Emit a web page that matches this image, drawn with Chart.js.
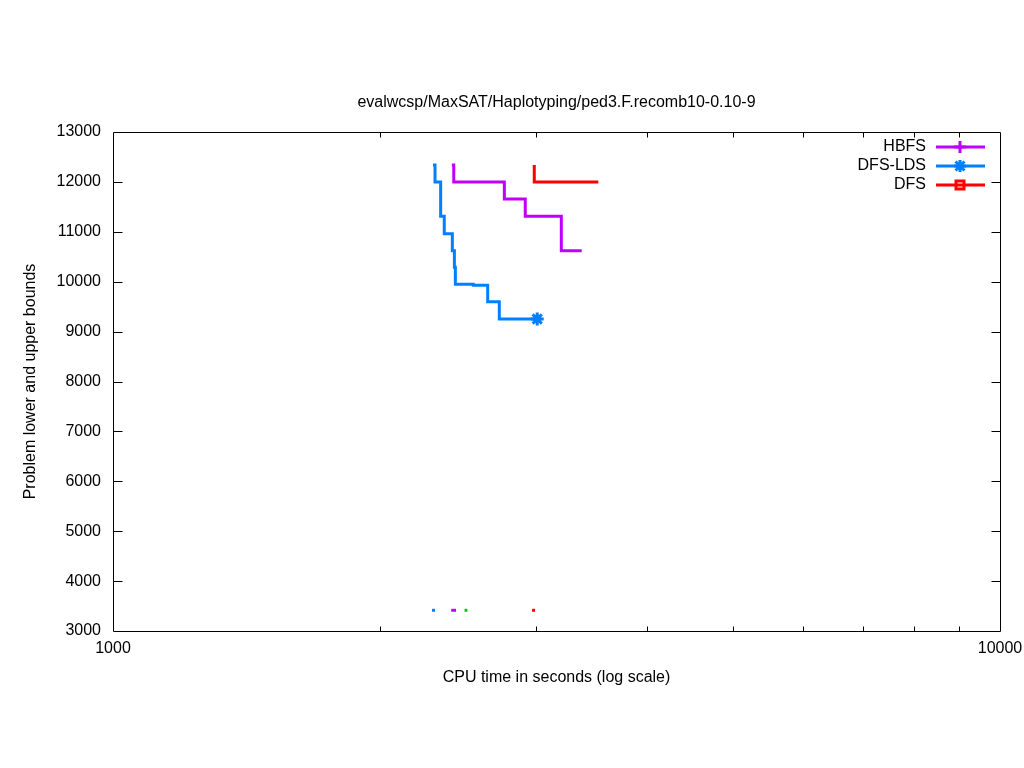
<!DOCTYPE html>
<html>
<head>
<meta charset="utf-8">
<script src="https://cdn.jsdelivr.net/npm/chart.js@4/dist/chart.umd.min.js"></script>
<style>
html,body{margin:0;padding:0;background:#fff;}
#wrap{width:1024px;height:768px;}
</style>
</head>
<body>
<div id="wrap"><canvas id="c" width="1024" height="768"></canvas></div>
<script>
const titleText = "evalwcsp/MaxSAT/Haplotyping/ped3.F.recomb10-0.10-9";
const xTitle = "CPU time in seconds (log scale)";
const yTitle = "Problem lower and upper bounds";

const hbfsTime = [2410, 2422, 2762, 2916, 3202, 3376];
const hbfsBound = [12340, 12000, 11657, 11310, 10621, 10621];

const ldsTime = [2295, 2307, 2341, 2363, 2413, 2426, 2432, 2548, 2645, 2726, 3008];
const ldsBound = [12340, 12000, 11310, 10962, 10621, 10288, 9947, 9927, 9600, 9253, 9253];

const dfsTime = [2985, 2985, 3525];
const dfsBound = [12340, 12000, 12000];

const lowerBound = 3415;
const hbfsLbTime = [2406, 2436];
const ldsLbTime = [2289, 2307];
const otherLbTime = [2491, 2509];
const dfsLbTime = [2968, 2991];

const xTickValues = [1000, 10000];
const xMinorTicks = [2000, 3000, 4000, 5000, 6000, 7000, 8000, 9000];
const yMin = 3000, yMax = 13000, yStep = 1000;

const PURPLE = '#c000ff', BLUE = '#0080ff', RED = '#ff0000', GREEN = '#00c000';
const FONT = 'Liberation Sans, Arial, sans-serif';
const FS = 16;

function pts(xs, ys) { return xs.map((x, i) => ({x: x, y: ys[i]})); }
function lb(xs) { return xs.map(x => ({x: x, y: lowerBound})); }

const lastLds = ldsTime.length - 1;

const datasets = [
  {label: 'HBFS', data: pts(hbfsTime, hbfsBound), borderColor: PURPLE, backgroundColor: PURPLE,
   borderWidth: 3, stepped: true, pointRadius: 0, legendStyle: 'cross'},
  {label: 'DFS-LDS', data: pts(ldsTime, ldsBound), borderColor: BLUE, backgroundColor: BLUE,
   borderWidth: 3, stepped: true, pointStyle: 'star',
   pointRadius: ctx => ctx.dataIndex === lastLds ? 6.5 : 0, pointBorderWidth: 3, legendStyle: 'star'},
  {label: 'DFS', data: pts(dfsTime, dfsBound), borderColor: RED, backgroundColor: RED,
   borderWidth: 3, stepped: true, pointRadius: 0, legendStyle: 'rect'},
  {label: '', data: lb(hbfsLbTime), borderColor: PURPLE, borderWidth: 3, pointRadius: 0, noLegend: true},
  {label: '', data: lb(ldsLbTime), borderColor: BLUE, borderWidth: 3, pointRadius: 0, noLegend: true},
  {label: '', data: lb(otherLbTime), borderColor: GREEN, borderWidth: 3, pointRadius: 0, noLegend: true},
  {label: '', data: lb(dfsLbTime), borderColor: RED, borderWidth: 3, pointRadius: 0, noLegend: true}
];

const framePlugin = {
  id: 'frame',
  afterDraw(chart) {
    const ctx = chart.ctx;
    const a = chart.chartArea;
    const xs = chart.scales.x, ys = chart.scales.y;
    ctx.save();
    // title
    ctx.fillStyle = '#000';
    ctx.font = FS + 'px ' + FONT;
    ctx.textAlign = 'center';
    ctx.textBaseline = 'middle';
    ctx.fillText(titleText, (a.left + a.right) / 2, 103);

    ctx.strokeStyle = '#000';
    ctx.lineWidth = 1;
    ctx.beginPath();
    const L = Math.round(a.left) + 0.5, R = Math.round(a.right) + 0.5;
    const T = Math.round(a.top) + 0.5, B = Math.round(a.bottom) + 0.5;
    ctx.rect(L, T, R - L, B - T);
    for (let v = yMin + yStep; v < yMax; v += yStep) {
      const y = Math.round(ys.getPixelForValue(v)) + 0.5;
      ctx.moveTo(L, y); ctx.lineTo(L + 9, y);
      ctx.moveTo(R, y); ctx.lineTo(R - 9, y);
    }
    xMinorTicks.forEach(v => {
      const x = Math.round(xs.getPixelForValue(v)) + 0.5;
      ctx.moveTo(x, B); ctx.lineTo(x, B - 5);
      ctx.moveTo(x, T); ctx.lineTo(x, T + 5);
    });
    ctx.stroke();

    // legend
    ctx.textAlign = 'right';
    let row = 0;
    chart.data.datasets.forEach(ds => {
      if (ds.noLegend) return;
      const y = 147 + row * 19;
      ctx.fillStyle = '#000';
      ctx.fillText(ds.label, 926, y);
      ctx.strokeStyle = ds.borderColor;
      ctx.lineWidth = 3;
      ctx.beginPath();
      ctx.moveTo(936, y); ctx.lineTo(985, y);
      ctx.stroke();
      const cx = 960;
      ctx.beginPath();
      if (ds.legendStyle === 'cross') {
        ctx.moveTo(cx, y - 6); ctx.lineTo(cx, y + 6);
        ctx.moveTo(cx - 6, y); ctx.lineTo(cx + 6, y);
      } else if (ds.legendStyle === 'star') {
        ctx.moveTo(cx, y - 6); ctx.lineTo(cx, y + 6);
        ctx.moveTo(cx - 6, y); ctx.lineTo(cx + 6, y);
        ctx.moveTo(cx - 4.5, y - 4.5); ctx.lineTo(cx + 4.5, y + 4.5);
        ctx.moveTo(cx - 4.5, y + 4.5); ctx.lineTo(cx + 4.5, y - 4.5);
      } else if (ds.legendStyle === 'rect') {
        ctx.rect(cx - 4, y - 4, 8, 8);
      }
      ctx.stroke();
      row++;
    });
    ctx.restore();
  }
};

new Chart(document.getElementById('c'), {
  type: 'line',
  data: {datasets: datasets},
  plugins: [framePlugin],
  options: {
    responsive: false,
    animation: false,
    devicePixelRatio: 1,
    layout: {padding: {left: 0, right: 24, top: 132, bottom: 0}},
    plugins: {
      legend: {display: false},
      tooltip: {enabled: false},
      title: {display: false}
    },
    scales: {
      x: {
        type: 'logarithmic', min: 1000, max: 10000,
        afterBuildTicks: s => { s.ticks = xTickValues.map(v => ({value: v})); },
        afterFit: s => { s.height = 137; s.paddingLeft = 0; s.paddingRight = 0; },
        grid: {display: false, drawTicks: false},
        border: {display: false},
        ticks: {color: '#000', font: {family: FONT, size: FS}, padding: 8, maxRotation: 0,
                autoSkip: false, callback: v => String(v)},
        title: {display: true, text: xTitle, color: '#000', font: {family: FONT, size: FS},
                padding: {bottom: 81}}
      },
      y: {
        type: 'linear', min: yMin, max: yMax,
        afterFit: s => { s.width = 113; s.paddingTop = 0; s.paddingBottom = 0; },
        grid: {display: false, drawTicks: false},
        border: {display: false},
        ticks: {color: '#000', font: {family: FONT, size: FS}, padding: 12, stepSize: yStep,
                callback: v => String(v)},
        title: {display: true, text: yTitle, color: '#000', font: {family: FONT, size: FS},
                padding: {top: 21}}
      }
    }
  }
});
</script>
</body>
</html>
